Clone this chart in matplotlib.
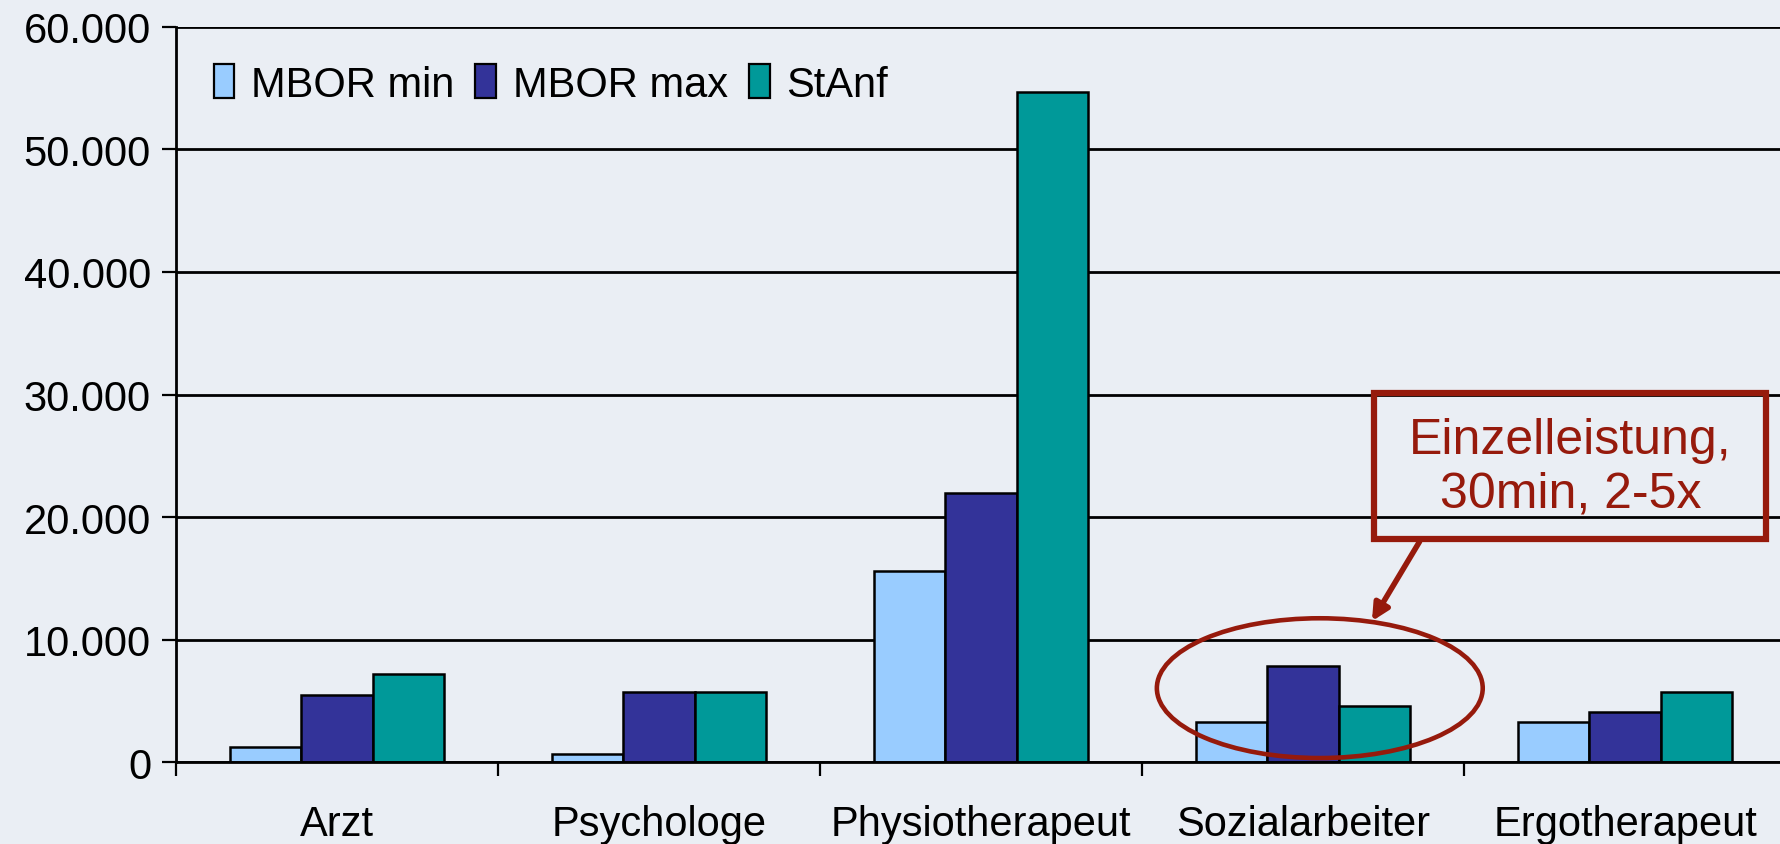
import matplotlib
matplotlib.use("Agg")
import matplotlib.pyplot as plt
from matplotlib.patches import Ellipse, Rectangle
import numpy as np

plt.rcParams['font.family'] = ['Liberation Sans', 'DejaVu Sans']

# values
categories = ['Arzt', 'Psychologe', 'Physiotherapeut', 'Sozialarbeiter', 'Ergotherapeut']
mbor_min = [1200, 650, 15600, 3300, 3300]
mbor_max = [5500, 5700, 22000, 7800, 4100]
stanf = [7200, 5700, 54700, 4600, 5700]
series_names = ['MBOR min', 'MBOR max', 'StAnf']
y_ticks = [0, 10000, 20000, 30000, 40000, 50000, 60000]
y_tick_labels = ['0', '10.000', '20.000', '30.000', '40.000', '50.000', '60.000']

colors = ['#99CCFF', '#333399', '#009999']
bg = '#EAEEF4'
red = '#961A0C'

fig = plt.figure(figsize=(17.8, 8.45), dpi=100, facecolor=bg)
ax = fig.add_axes([0.0989, 0.097, 0.9045, 0.8699])
ax.set_facecolor(bg)

x = np.arange(len(categories))
w = 1 / 4.5
for i, (vals, name) in enumerate(zip([mbor_min, mbor_max, stanf], series_names)):
    ax.bar(x + (i - 1) * w, vals, width=w, color=colors[i], edgecolor='black',
           linewidth=1.8, label=name, zorder=3)

ax.set_xlim(-0.5, len(categories) - 0.5)
ax.set_ylim(0, 60000)
ax.set_yticks(y_ticks)
ax.set_yticklabels(y_tick_labels)
ax.yaxis.grid(True, color='black', linewidth=2.0, zorder=1)

# category ticks between groups, labels at centres
ax.set_xticks(np.arange(-0.5, len(categories), 1.0))
ax.set_xticklabels([])
ax.set_xticks(x, minor=True)
ax.set_xticklabels(categories, minor=True)
ax.tick_params(axis='x', which='major', length=10, width=1.6, direction='out')
ax.tick_params(axis='x', which='minor', length=0, pad=30, labelsize=30)
ax.tick_params(axis='y', length=10, width=1.6, direction='out', labelsize=30, pad=8)

for s in ['top', 'right']:
    ax.spines[s].set_visible(False)
for s in ['left', 'bottom']:
    ax.spines[s].set_linewidth(2.0)
    ax.spines[s].set_zorder(4)

leg = ax.legend(loc='upper left', bbox_to_anchor=(0.0, 1.0), ncol=3, frameon=False,
                fontsize=30, handlelength=0.5, handleheight=0.85, handletextpad=0.4,
                columnspacing=0.5)
for h in leg.legend_handles:
    h.set_linewidth(1.6)

# annotation: box, ellipse, arrow
ax.add_patch(Rectangle((3.221, 18182), 1.217, 11966, fill=False, edgecolor=red,
                       linewidth=4.5, zorder=5, clip_on=False))
ax.text(3.83, 24100, 'Einzelleistung,\n30min, 2-5x', color=red, fontsize=36,
        ha='center', va='center', linespacing=1.2, zorder=6)
ax.add_patch(Ellipse((3.052, 6030), 1.012, 11410, fill=False, edgecolor=red,
                     linewidth=3.3, zorder=5))
ax.annotate('', xy=(3.214, 11500), xytext=(3.362, 18000),
            arrowprops=dict(arrowstyle='-|>', color=red, lw=4, mutation_scale=25,
                            shrinkA=0, shrinkB=0), zorder=6)

fig.savefig('out.png', dpi=100, facecolor=bg)
